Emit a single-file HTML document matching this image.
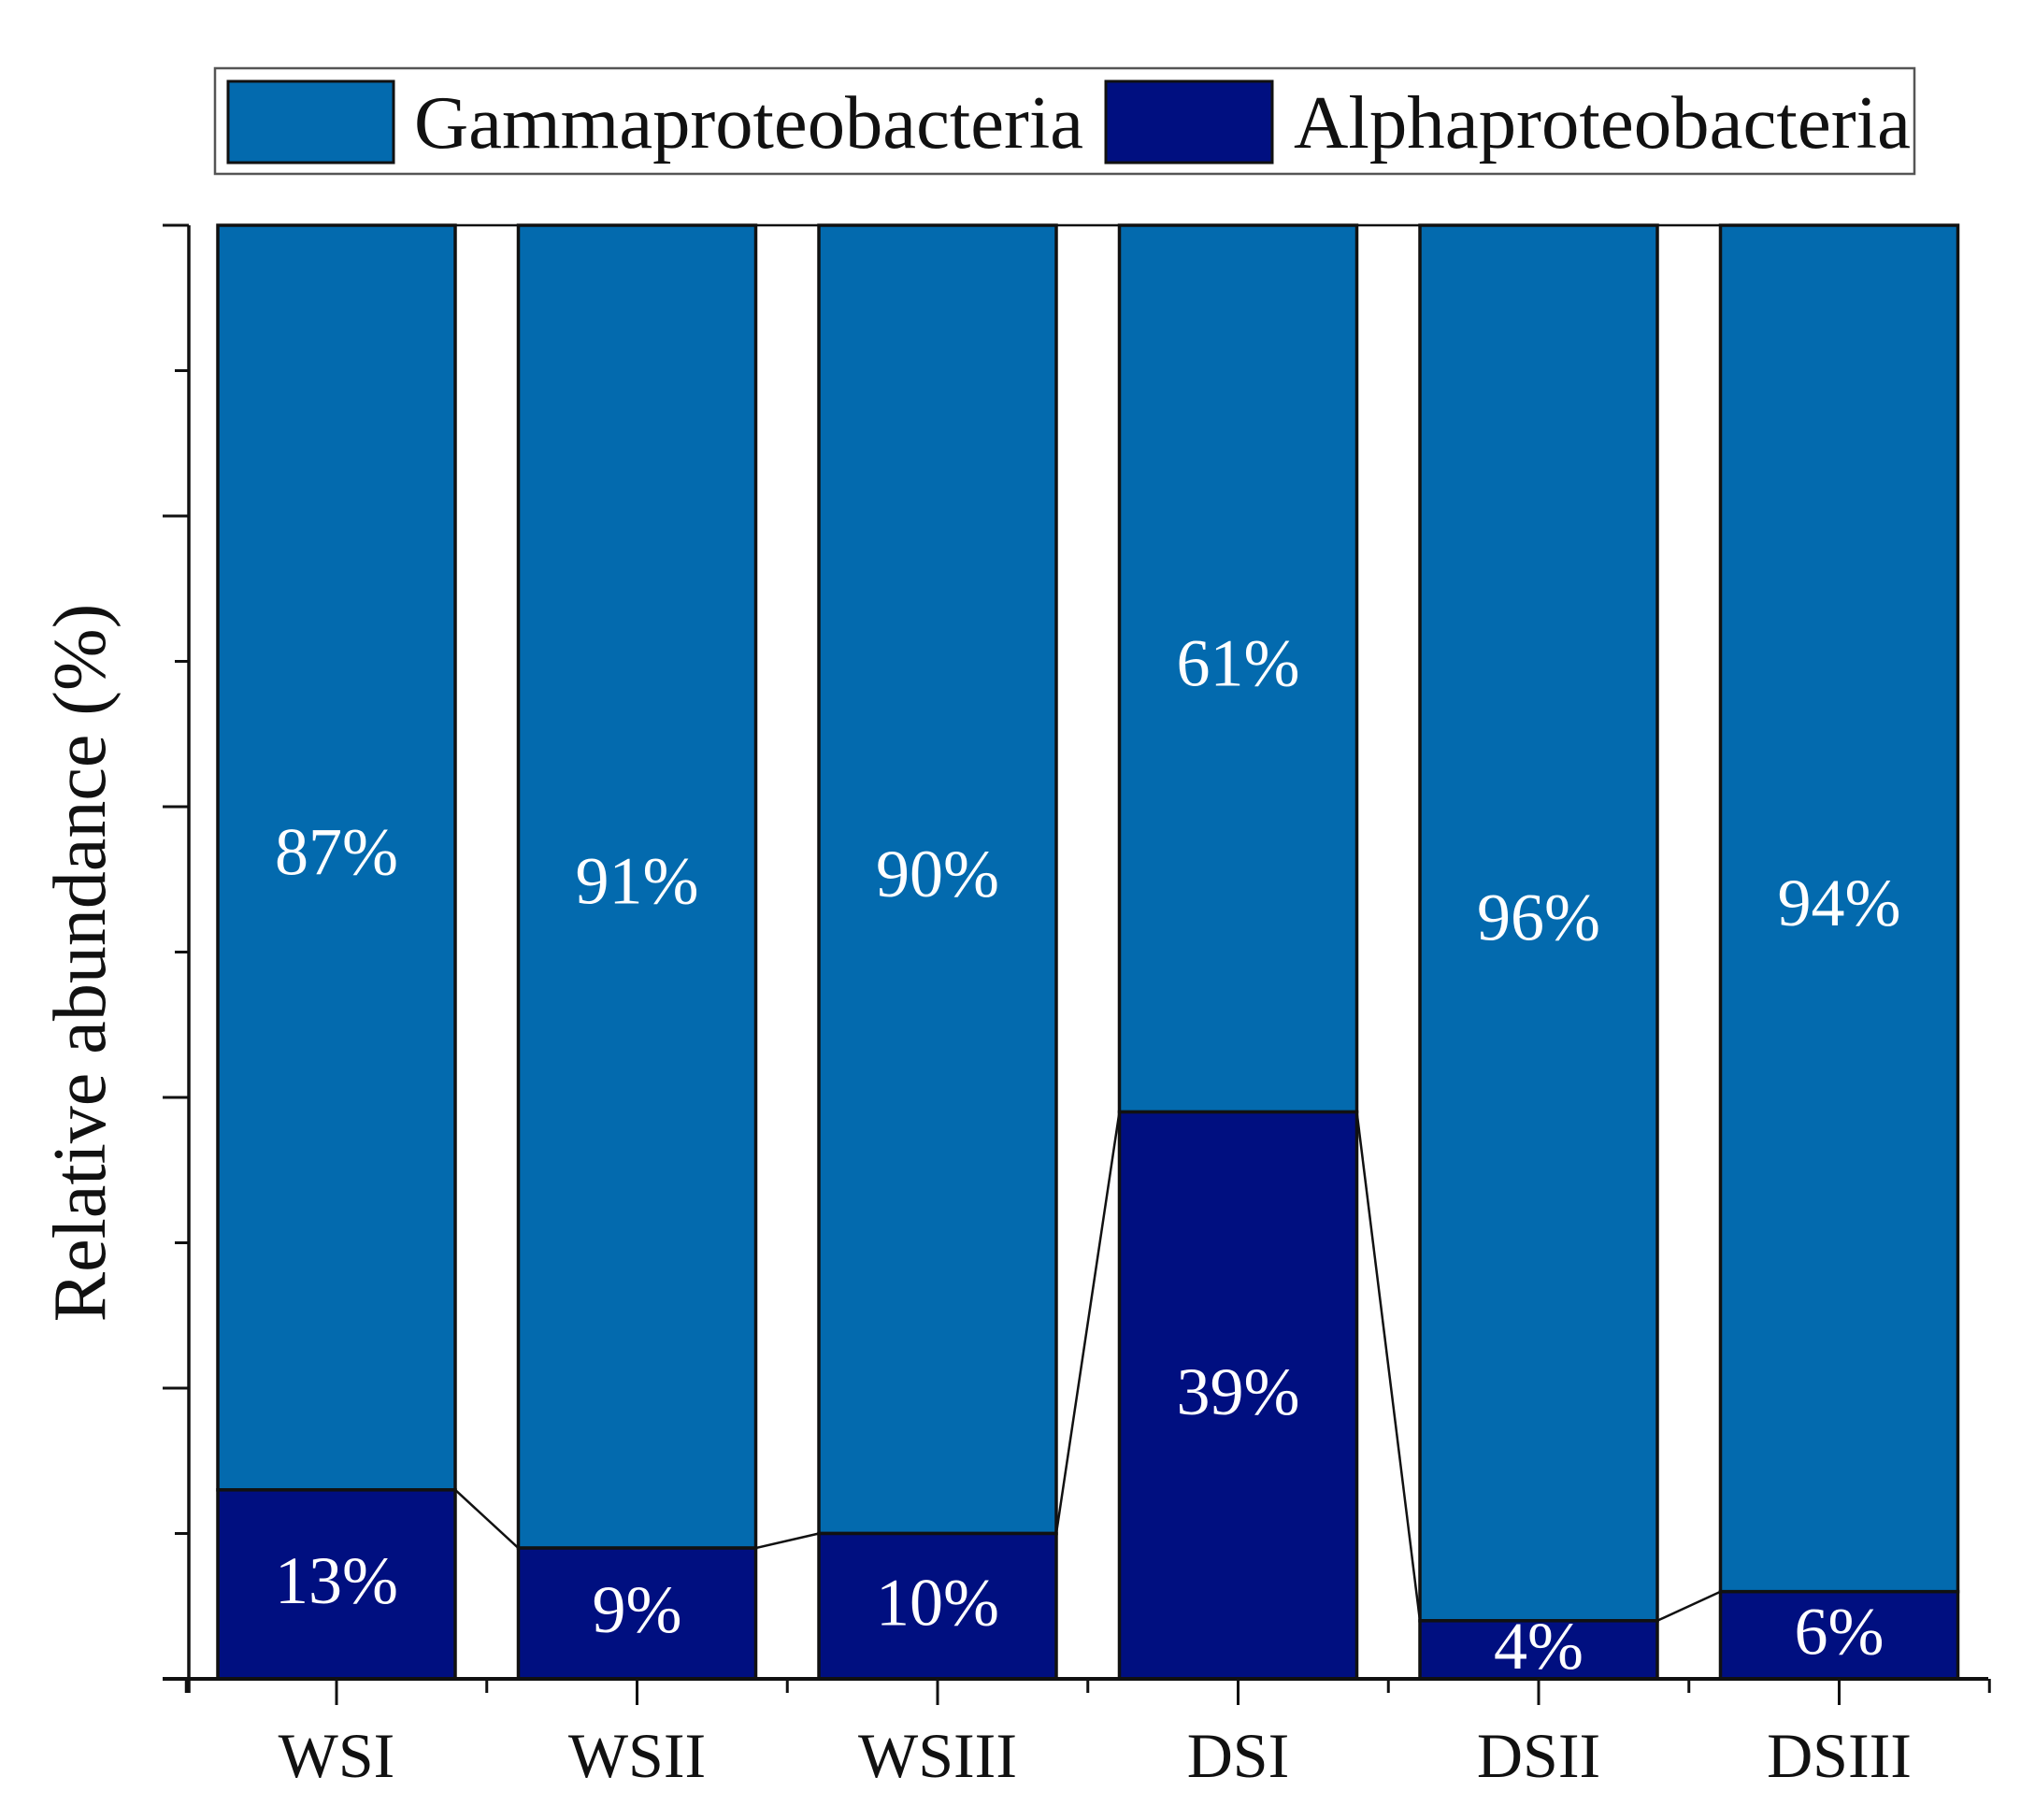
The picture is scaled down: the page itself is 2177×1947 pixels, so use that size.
<!DOCTYPE html>
<html><head><meta charset="utf-8"><style>
html,body{margin:0;padding:0;background:#fff;}
svg{display:block;font-family:"Liberation Serif",serif;}
</style></head><body>
<svg id="chart" width="2177" height="1947" viewBox="0 0 2177 1947">
<g>
<rect x="230" y="73" width="1818" height="113" fill="#fff" stroke="#555" stroke-width="2.5"/>
<rect x="244" y="87" width="177" height="87" fill="#036aae" stroke="#111" stroke-width="3"/>
<text x="443" y="158" font-size="80" fill="#111" textLength="716" lengthAdjust="spacingAndGlyphs">Gammaproteobacteria</text>
<rect x="1183" y="87" width="178" height="87" fill="#000f80" stroke="#111" stroke-width="3"/>
<text x="1384" y="158" font-size="80" fill="#111" textLength="660" lengthAdjust="spacingAndGlyphs">Alphaproteobacteria</text>
</g>
<g id="plot"></g>
<text transform="translate(112,1030) rotate(-90)" text-anchor="middle" font-size="80" fill="#111">Relative abundance (%)</text>
</svg>
<script>
const categories = ["WSI","WSII","WSIII","DSI","DSII","DSIII"];
const alphaValues = [13, 9, 10, 39, 4, 6];
const gammaValues = [87, 91, 90, 61, 96, 94];
const yTicks = [0, 20, 40, 60, 80, 100];

const NS = "http://www.w3.org/2000/svg";
const plot = document.getElementById("plot");
const X0 = 202, X1 = 2127, Y0 = 1796, Y1 = 241;
const firstC = 360, pitch = 321.5, barW = 254;
const xc = i => firstC + i * pitch;
const y = v => Y0 - (v / 100) * (Y0 - Y1);
function mk(tag, attrs) {
  const e = document.createElementNS(NS, tag);
  for (const k in attrs) e.setAttribute(k, attrs[k]);
  plot.appendChild(e);
  return e;
}
categories.forEach((c, i) => {
  const l = xc(i) - barW / 2;
  const a = alphaValues[i], g = gammaValues[i];
  const gr = mk("rect", {x: l, y: y(a + g), width: barW, height: y(a) - y(a + g), fill: "#036aae", stroke: "#111", "stroke-width": 3.5});
  
  
  const ar = mk("rect", {x: l, y: y(a), width: barW, height: y(0) - y(a), fill: "#000f80", stroke: "#111", "stroke-width": 3.5});
  
  
  const gt = mk("text", {x: xc(i), y: (y(a + g) + y(a)) / 2 + 18, "text-anchor": "middle", "font-size": 72, fill: "#fff"});
  gt.textContent = g + "%";
  
  
  const at = mk("text", {x: xc(i), y: (y(a) + y(0)) / 2 + 20, "text-anchor": "middle", "font-size": 72, fill: "#fff"});
  at.textContent = a + "%";
  
  
  const cl = mk("text", {x: xc(i), y: 1901, "text-anchor": "middle", "font-size": 68, fill: "#111"});
  cl.textContent = c;
  
  
  const tk = mk("line", {x1: xc(i), x2: xc(i), y1: Y0, y2: Y0 + 28, stroke: "#111", "stroke-width": 3});
  
  
  if (i < categories.length - 1) {
    const r = xc(i) + barW / 2, nl = xc(i + 1) - barW / 2;
    const cn = mk("line", {x1: r, y1: y(a), x2: nl, y2: y(alphaValues[i + 1]), stroke: "#111", "stroke-width": 2.5});
    
    
    const ct = mk("line", {x1: r, y1: y(a + g), x2: nl, y2: y(alphaValues[i + 1] + gammaValues[i + 1]), stroke: "#111", "stroke-width": 2.5});
    
    
  }
});
for (let i = 0; i <= categories.length; i++) {
  const mx = xc(i) - pitch / 2;
  const m = mk("line", {x1: mx, x2: mx, y1: Y0, y2: Y0 + 15, stroke: "#111", "stroke-width": 3});
  
  
}
yTicks.forEach((t, i) => {
  const mj = mk("line", {x1: X0 - 28, x2: X0, y1: y(t), y2: y(t), stroke: "#111", "stroke-width": 3});
  
  
  if (i < yTicks.length - 1) {
    const mn = mk("line", {x1: X0 - 15, x2: X0, y1: y((t + yTicks[i + 1]) / 2), y2: y((t + yTicks[i + 1]) / 2), stroke: "#111", "stroke-width": 3});
    
    
  }
});
const ya = mk("line", {x1: X0, x2: X0, y1: Y1, y2: Y0 + 15, stroke: "#111", "stroke-width": 3.5});


const xa = mk("line", {x1: 174, x2: X1, y1: Y0, y2: Y0, stroke: "#111", "stroke-width": 4});


</script>
</body></html>
